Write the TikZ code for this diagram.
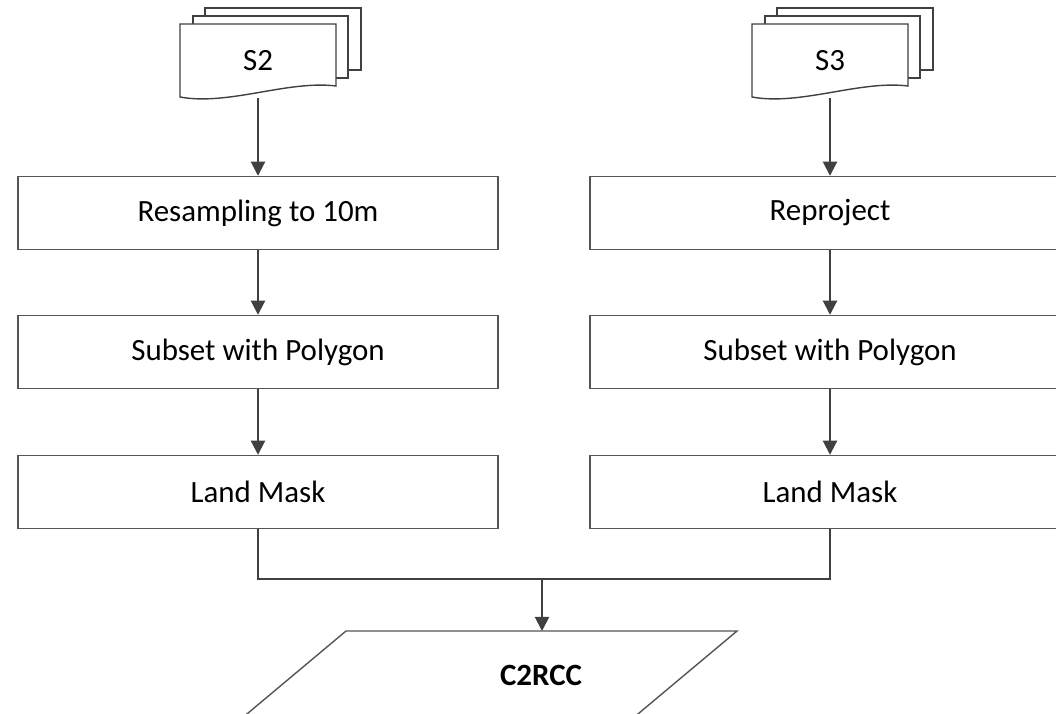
\documentclass[tikz,border=0pt]{standalone}
\usepackage{fontspec}
\setmainfont{Carlito}
\usetikzlibrary{arrows.meta}

\begin{document}
\begin{tikzpicture}[x=0.025cm, y=-0.025cm]

  \definecolor{my_gray}{RGB}{85,85,85}
  \definecolor{my_gray_dark}{RGB}{64,64,64}

  \tikzstyle{block} = [rectangle, draw=my_gray, line width=1pt, minimum width=12cm, minimum height=1.825cm, font=\fontsize{22}{26}\selectfont]
  \tikzstyle{stack} = [rectangle, minimum width=3.9cm, minimum height=1.85cm, font=\fontsize{22}{26}\selectfont]
  \tikzstyle{page} = [draw=my_gray_dark, fill=white, line width=1pt]
  \tikzstyle{line} = [draw=my_gray_dark, line width=1.4pt, -{Triangle[length=10pt, width=10pt]}]

  \useasboundingbox (0,0) rectangle (1056,714);
  \clip (0,0) rectangle (1056,714);

  % input stacks
  \draw [page] (205,8) rectangle (361,70);
  \draw [page] (193,16) rectangle (348,78);
  \draw [page] (180,24) -- (336,24) -- (336,86) .. controls (288,80) and (228,106) .. (180,97) -- cycle;
  \node [stack] (s2) at (258,61) {S2};

  \draw [page] (777,8) rectangle (933,70);
  \draw [page] (765,16) rectangle (920,78);
  \draw [page] (752,24) -- (908,24) -- (908,86) .. controls (860,80) and (800,106) .. (752,97) -- cycle;
  \node [stack] (s3) at (830,61) {S3};

  % processing chains
  \node [block] (resample) at (258,213) {Resampling to 10m};
  \node [block] (subset_l) at (258,352) {Subset with Polygon};
  \node [block] (mask_l) at (258,492) {Land Mask};

  \node [block] (reproject) at (830,213) {Reproject};
  \node [block] (subset_r) at (830,352) {Subset with Polygon};
  \node [block] (mask_r) at (830,492) {Land Mask};

  % output
  \draw [draw=my_gray, line width=1pt] (346,631) -- (737,631) -- (583,760) -- (192,760) -- cycle;
  \node [font=\fontsize{22}{26}\selectfont\bfseries] (c2rcc) at (541,675) {C2RCC};
  \coordinate (merge) at (542,579);
  \coordinate (c2rcc_top) at (542,631);

  \path [line] (s2) -- (resample);
  \path [line] (resample) -- (subset_l);
  \path [line] (subset_l) -- (mask_l);

  \path [line] (s3) -- (reproject);
  \path [line] (reproject) -- (subset_r);
  \path [line] (subset_r) -- (mask_r);

  \draw [draw=my_gray_dark, line width=1.4pt] (mask_l.south) -- (mask_l.south |- merge) -- (mask_r.south |- merge) -- (mask_r.south);
  \path [line] (merge) -- (c2rcc_top);

\end{tikzpicture}
\end{document}
